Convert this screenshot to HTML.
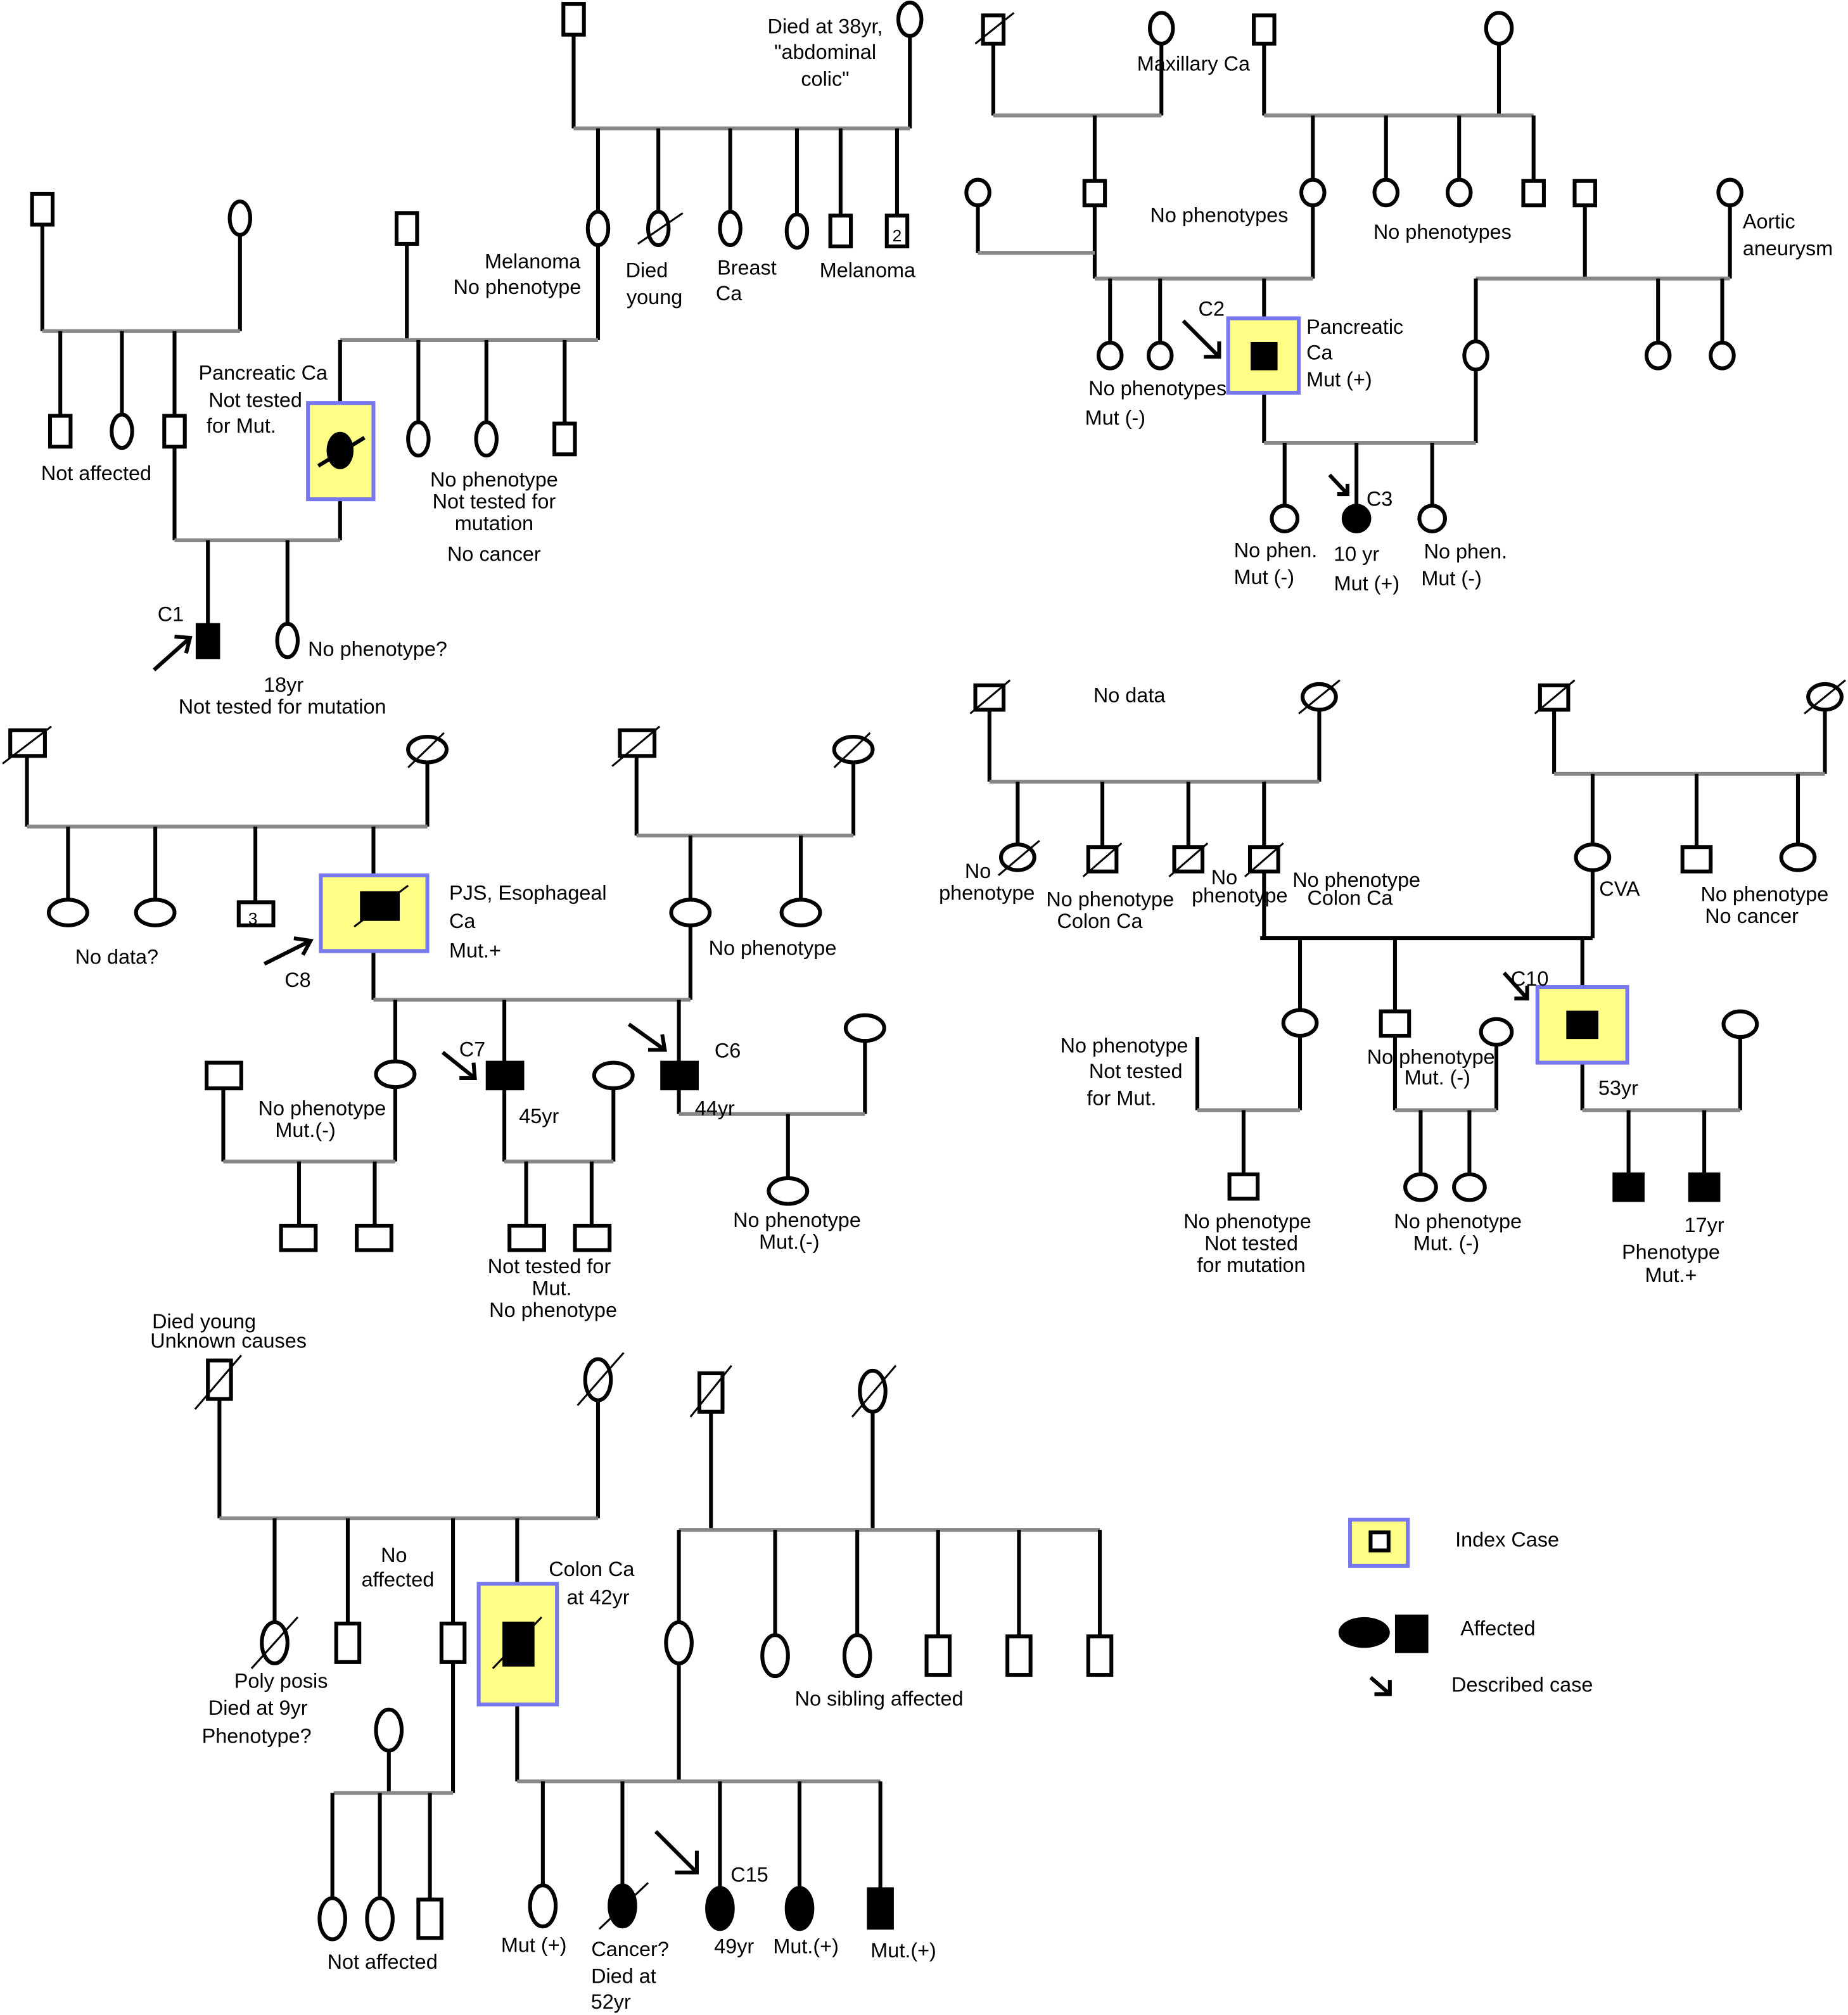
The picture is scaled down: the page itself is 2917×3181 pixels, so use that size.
<!DOCTYPE html>
<html><head><meta charset="utf-8"><style>
html,body{margin:0;padding:0;background:#fff}
svg{display:block}
.s{fill:#fff;stroke:#000;stroke-width:3}
.f{fill:#000;stroke:#000;stroke-width:3}
.k{stroke:#000;stroke-width:3;fill:none}
.g{stroke:#888;stroke-width:3;fill:none}
.y{fill:#ffff88;stroke:#7777ee;stroke-width:3}
.sl{stroke:#000;stroke-width:1.5}
text{font-family:"Liberation Sans",sans-serif;font-size:16px;fill:#000}
.m{text-anchor:middle}
</style></head><body>
<svg width="2917" height="3181" viewBox="0 0 1440 1570" preserveAspectRatio="none" xmlns="http://www.w3.org/2000/svg">
<!-- ===== Pedigree 1 ===== -->
<g>
<line class="k" x1="447" y1="27" x2="447" y2="100"/><line class="k" x1="709" y1="28" x2="709" y2="100"/>
<line class="g" x1="447" y1="100" x2="709" y2="100"/>
<rect class="s" x="439" y="3" width="16" height="24"/><ellipse class="s" cx="709" cy="15" rx="9" ry="13"/>
<line class="k" x1="466" y1="100" x2="466" y2="166"/><line class="k" x1="513" y1="100" x2="513" y2="166"/>
<line class="k" x1="569" y1="100" x2="569" y2="166"/><line class="k" x1="621" y1="100" x2="621" y2="168"/>
<line class="k" x1="655" y1="100" x2="655" y2="168"/><line class="k" x1="699" y1="100" x2="699" y2="168"/>
<ellipse class="s" cx="466" cy="178" rx="8" ry="13"/><ellipse class="s" cx="513" cy="178" rx="8" ry="13"/>
<line class="sl" x1="497" y1="190" x2="532" y2="166"/>
<ellipse class="s" cx="569" cy="178" rx="8" ry="13"/><ellipse class="s" cx="621" cy="180" rx="8" ry="13"/>
<rect class="s" x="647" y="168" width="16" height="24"/><rect class="s" x="691" y="168" width="16" height="24"/>
<text x="699" y="188" class="m" style="font-size:13px">2</text>
<text x="643" y="26" class="m">Died at 38yr,</text><text x="643" y="46" class="m">"abdominal</text><text x="643" y="67" class="m">colic"</text>
<text x="415" y="209" class="m">Melanoma</text><text x="403" y="229" class="m">No phenotype</text>
<text x="504" y="216" class="m">Died</text><text x="510" y="237" class="m">young</text>
<text x="582" y="214" class="m">Breast</text><text x="568" y="234" class="m">Ca</text>
<text x="676" y="216" class="m">Melanoma</text>
<!-- left couple -->
<line class="k" x1="33" y1="175" x2="33" y2="258"/><line class="k" x1="187" y1="183" x2="187" y2="258"/>
<line class="g" x1="33" y1="258" x2="187" y2="258"/>
<rect class="s" x="25" y="151" width="16" height="24"/><ellipse class="s" cx="187" cy="170" rx="8" ry="13"/>
<line class="k" x1="47" y1="258" x2="47" y2="324"/><line class="k" x1="95" y1="258" x2="95" y2="323"/><line class="k" x1="136" y1="258" x2="136" y2="421"/>
<rect class="s" x="39" y="324" width="16" height="24"/><ellipse class="s" cx="95" cy="336" rx="8" ry="13"/><rect class="s" x="128" y="324" width="16" height="24"/>
<text x="75" y="374" class="m">Not affected</text>
<!-- middle couple -->
<line class="k" x1="317" y1="190" x2="317" y2="265"/><rect class="s" x="309" y="166" width="16" height="24"/>
<line class="k" x1="466" y1="191" x2="466" y2="265"/>
<line class="g" x1="265" y1="265" x2="466" y2="265"/>
<line class="k" x1="265" y1="265" x2="265" y2="421"/>
<line class="k" x1="326" y1="265" x2="326" y2="329"/><line class="k" x1="379" y1="265" x2="379" y2="329"/><line class="k" x1="440" y1="265" x2="440" y2="330"/>
<ellipse class="s" cx="326" cy="342" rx="8" ry="13"/><ellipse class="s" cx="379" cy="342" rx="8" ry="13"/><rect class="s" x="432" y="330" width="16" height="24"/>
<rect class="y" x="240" y="314" width="51" height="75"/>
<ellipse class="f" cx="265" cy="351" rx="9" ry="13"/><line class="k" x1="248" y1="363" x2="284" y2="341"/>
<text x="205" y="296" class="m">Pancreatic Ca</text><text x="199" y="317" class="m">Not tested</text><text x="188" y="337" class="m">for Mut.</text>
<text x="385" y="379" class="m">No phenotype</text><text x="385" y="396" class="m">Not tested for</text><text x="385" y="413" class="m">mutation</text><text x="385" y="437" class="m">No cancer</text>
<line class="g" x1="136" y1="421" x2="265" y2="421"/>
<line class="k" x1="162" y1="421" x2="162" y2="487"/><line class="k" x1="224" y1="421" x2="224" y2="486"/>
<rect class="f" x="154" y="487" width="16" height="25"/><ellipse class="s" cx="224" cy="499" rx="8" ry="13"/>
<line class="k" x1="120" y1="522" x2="148" y2="497"/><polyline class="k" points="136,496 148,497 145,509"/>
<text x="133" y="484" class="m">C1</text>
<text x="240" y="511">No phenotype?</text><text x="221" y="539" class="m">18yr</text><text x="220" y="556" class="m">Not tested for mutation</text>
</g>
<!-- ===== Pedigree 2 ===== -->
<g>
<line class="k" x1="774" y1="34" x2="774" y2="90"/><line class="k" x1="905" y1="35" x2="905" y2="90"/>
<line class="g" x1="774" y1="90" x2="905" y2="90"/>
<rect class="s" x="766" y="12" width="16" height="22"/><line class="sl" x1="760" y1="34" x2="790" y2="10"/>
<ellipse class="s" cx="905" cy="22" rx="9" ry="12"/>
<text x="930" y="55" class="m">Maxillary Ca</text>
<line class="k" x1="985" y1="34" x2="985" y2="90"/><line class="k" x1="1168" y1="34" x2="1168" y2="90"/>
<line class="g" x1="985" y1="90" x2="1195" y2="90"/>
<rect class="s" x="977" y="12" width="16" height="22"/><ellipse class="s" cx="1168" cy="22" rx="10" ry="12"/>
<line class="k" x1="1023" y1="90" x2="1023" y2="217"/><line class="k" x1="1080" y1="90" x2="1080" y2="140"/>
<line class="k" x1="1137" y1="90" x2="1137" y2="140"/><line class="k" x1="1195" y1="90" x2="1195" y2="141"/>
<ellipse class="s" cx="1023" cy="150" rx="9" ry="10"/><ellipse class="s" cx="1080" cy="150" rx="9" ry="10"/>
<ellipse class="s" cx="1137" cy="150" rx="9" ry="10"/><rect class="s" x="1187" y="141" width="16" height="19"/>
<line class="k" x1="853" y1="90" x2="853" y2="217"/><rect class="s" x="845" y="141" width="16" height="19"/>
<line class="k" x1="762" y1="160" x2="762" y2="197"/><line class="g" x1="762" y1="197" x2="853" y2="197"/>
<ellipse class="s" cx="762" cy="150" rx="9" ry="10"/>
<text x="950" y="173" class="m">No phenotypes</text><text x="1124" y="186" class="m">No phenotypes</text>
<line class="g" x1="853" y1="217" x2="1023" y2="217"/>
<line class="k" x1="865" y1="217" x2="865" y2="267"/><line class="k" x1="904" y1="217" x2="904" y2="267"/><line class="k" x1="985" y1="217" x2="985" y2="345"/>
<ellipse class="s" cx="865" cy="277" rx="9" ry="10"/><ellipse class="s" cx="904" cy="277" rx="9" ry="10"/>
<rect class="y" x="957" y="248" width="55" height="58"/><rect class="f" x="976" y="268" width="18" height="19"/>
<text x="944" y="246" class="m">C2</text>
<line class="k" x1="922" y1="250" x2="950" y2="278"/><polyline class="k" points="950,266 950,278 938,278"/>
<text x="1018" y="260">Pancreatic</text><text x="1018" y="280">Ca</text><text x="1018" y="301">Mut (+)</text>
<text x="902" y="308" class="m">No phenotypes</text><text x="869" y="331" class="m">Mut (-)</text>
<line class="k" x1="1235" y1="160" x2="1235" y2="217"/><line class="k" x1="1348" y1="160" x2="1348" y2="217"/>
<rect class="s" x="1227" y="141" width="16" height="19"/><ellipse class="s" cx="1348" cy="150" rx="9" ry="10"/>
<line class="g" x1="1150" y1="217" x2="1348" y2="217"/>
<line class="k" x1="1150" y1="217" x2="1150" y2="345"/><line class="k" x1="1292" y1="217" x2="1292" y2="267"/><line class="k" x1="1342" y1="217" x2="1342" y2="267"/>
<ellipse class="s" cx="1150" cy="277" rx="9" ry="11"/><ellipse class="s" cx="1292" cy="277" rx="9" ry="10"/><ellipse class="s" cx="1342" cy="277" rx="9" ry="10"/>
<text x="1358" y="178">Aortic</text><text x="1358" y="199">aneurysm</text>
<line class="g" x1="985" y1="345" x2="1150" y2="345"/>
<line class="k" x1="1001" y1="345" x2="1001" y2="394"/><line class="k" x1="1057" y1="345" x2="1057" y2="394"/><line class="k" x1="1116" y1="345" x2="1116" y2="394"/>
<ellipse class="s" cx="1001" cy="404" rx="10" ry="10"/><ellipse class="f" cx="1057" cy="404" rx="10" ry="10"/><ellipse class="s" cx="1116" cy="404" rx="10" ry="10"/>
<line class="k" x1="1036" y1="370" x2="1050" y2="385"/><polyline class="k" points="1050,377 1050,385 1042,385"/>
<text x="1075" y="394" class="m">C3</text>
<text x="994" y="434" class="m">No phen.</text><text x="985" y="455" class="m">Mut (-)</text>
<text x="1057" y="437" class="m">10 yr</text><text x="1065" y="460" class="m">Mut (+)</text>
<text x="1142" y="435" class="m">No phen.</text><text x="1131" y="456" class="m">Mut (-)</text>
</g>
<!-- ===== Pedigree 3 ===== -->
<g>
<line class="k" x1="21" y1="589" x2="21" y2="644"/><line class="k" x1="333" y1="595" x2="333" y2="644"/>
<line class="g" x1="21" y1="644" x2="333" y2="644"/>
<rect class="s" x="8" y="569" width="27" height="20"/><line class="sl" x1="2" y1="595" x2="40" y2="566"/>
<ellipse class="s" cx="333" cy="584" rx="15" ry="10"/><line class="sl" x1="318" y1="598" x2="346" y2="571"/>
<line class="k" x1="53" y1="644" x2="53" y2="701"/><line class="k" x1="121" y1="644" x2="121" y2="701"/><line class="k" x1="199" y1="644" x2="199" y2="703"/><line class="k" x1="291" y1="644" x2="291" y2="779"/>
<ellipse class="s" cx="53" cy="711" rx="15" ry="10"/><ellipse class="s" cx="121" cy="711" rx="15" ry="10"/>
<rect class="s" x="186" y="703" width="27" height="18"/><text x="197" y="720" class="m" style="font-size:13px">3</text>
<rect class="y" x="250" y="682" width="83" height="59"/><rect class="f" x="282" y="696" width="28" height="20"/><line class="sl" x1="276" y1="722" x2="318" y2="690"/>
<text x="91" y="751" class="m">No data?</text>
<text x="350" y="701">PJS, Esophageal</text><text x="350" y="723">Ca</text><text x="350" y="746">Mut.+</text>
<line class="k" x1="206" y1="751" x2="242" y2="733"/><polyline class="k" points="229,731 242,733 236,744"/>
<text x="232" y="769" class="m">C8</text>
<line class="k" x1="496" y1="589" x2="496" y2="651"/><line class="k" x1="665" y1="595" x2="665" y2="651"/>
<line class="g" x1="496" y1="651" x2="665" y2="651"/>
<rect class="s" x="483" y="569" width="27" height="20"/><line class="sl" x1="477" y1="597" x2="514" y2="566"/>
<ellipse class="s" cx="665" cy="584" rx="15" ry="10"/><line class="sl" x1="650" y1="598" x2="678" y2="571"/>
<line class="k" x1="538" y1="651" x2="538" y2="779"/><line class="k" x1="624" y1="651" x2="624" y2="701"/>
<ellipse class="s" cx="538" cy="711" rx="15" ry="10"/><ellipse class="s" cx="624" cy="711" rx="15" ry="10"/>
<text x="602" y="744" class="m">No phenotype</text>
<line class="g" x1="291" y1="779" x2="538" y2="779"/>
<line class="k" x1="308" y1="779" x2="308" y2="905"/><line class="k" x1="393" y1="779" x2="393" y2="905"/><line class="k" x1="529" y1="779" x2="529" y2="868"/>
<ellipse class="s" cx="308" cy="837" rx="15" ry="10"/>
<rect class="f" x="380" y="828" width="27" height="20"/><rect class="f" x="516" y="828" width="27" height="20"/>
<line class="k" x1="174" y1="848" x2="174" y2="905"/><rect class="s" x="161" y="828" width="27" height="20"/>
<line class="g" x1="174" y1="905" x2="308" y2="905"/>
<line class="k" x1="233" y1="905" x2="233" y2="955"/><line class="k" x1="292" y1="905" x2="292" y2="955"/>
<rect class="s" x="219" y="955" width="27" height="19"/><rect class="s" x="278" y="955" width="27" height="19"/>
<text x="251" y="869" class="m">No phenotype</text><text x="238" y="886" class="m">Mut.(-)</text>
<line class="k" x1="478" y1="848" x2="478" y2="905"/><ellipse class="s" cx="478" cy="838" rx="15" ry="10"/>
<line class="g" x1="393" y1="905" x2="478" y2="905"/>
<line class="k" x1="410" y1="905" x2="410" y2="955"/><line class="k" x1="461" y1="905" x2="461" y2="955"/>
<rect class="s" x="397" y="955" width="27" height="19"/><rect class="s" x="448" y="955" width="27" height="19"/>
<text x="420" y="875" class="m">45yr</text><text x="368" y="823" class="m">C7</text>
<line class="k" x1="345" y1="820" x2="370" y2="840"/><polyline class="k" points="358,840 370,840 369,828"/>
<text x="428" y="992" class="m">Not tested for</text><text x="430" y="1009" class="m">Mut.</text><text x="431" y="1026" class="m">No phenotype</text>
<line class="k" x1="674" y1="811" x2="674" y2="868"/><ellipse class="s" cx="674" cy="801" rx="15" ry="10"/>
<line class="g" x1="529" y1="868" x2="674" y2="868"/>
<line class="k" x1="614" y1="868" x2="614" y2="918"/><ellipse class="s" cx="614" cy="928" rx="15" ry="10"/>
<text x="557" y="869" class="m">44yr</text><text x="567" y="824" class="m">C6</text>
<line class="k" x1="490" y1="798" x2="518" y2="818"/><polyline class="k" points="505,818 518,818 516,806"/>
<text x="621" y="956" class="m">No phenotype</text><text x="615" y="973" class="m">Mut.(-)</text>
</g>
<!-- ===== Pedigree 4 ===== -->
<g>
<line class="k" x1="771" y1="553" x2="771" y2="609"/><line class="k" x1="1028" y1="553" x2="1028" y2="609"/>
<line class="g" x1="771" y1="609" x2="1028" y2="609"/>
<rect class="s" x="760" y="534" width="22" height="19"/><line class="sl" x1="756" y1="556" x2="787" y2="530"/>
<ellipse class="s" cx="1028" cy="543" rx="13" ry="10"/><line class="sl" x1="1012" y1="556" x2="1044" y2="530"/>
<text x="880" y="547" class="m">No data</text>
<line class="k" x1="793" y1="609" x2="793" y2="658"/><line class="k" x1="859" y1="609" x2="859" y2="660"/>
<line class="k" x1="926" y1="609" x2="926" y2="660"/><line class="k" x1="985" y1="609" x2="985" y2="731"/>
<ellipse class="s" cx="793" cy="668" rx="13" ry="10"/><line class="sl" x1="778" y1="682" x2="810" y2="655"/>
<rect class="s" x="848" y="660" width="22" height="19"/><line class="sl" x1="844" y1="683" x2="874" y2="657"/>
<rect class="s" x="915" y="660" width="22" height="19"/><line class="sl" x1="911" y1="683" x2="941" y2="657"/>
<rect class="s" x="974" y="660" width="22" height="19"/><line class="sl" x1="970" y1="683" x2="1000" y2="657"/>
<text x="762" y="684" class="m">No</text><text x="769" y="701" class="m">phenotype</text>
<text x="865" y="706" class="m">No phenotype</text><text x="857" y="723" class="m">Colon Ca</text>
<text x="954" y="689" class="m">No</text><text x="966" y="703" class="m">phenotype</text>
<text x="1057" y="691" class="m">No phenotype</text><text x="1052" y="705" class="m">Colon Ca</text>
<line class="k" x1="1211" y1="553" x2="1211" y2="603"/><line class="k" x1="1422" y1="553" x2="1422" y2="603"/>
<line class="g" x1="1211" y1="603" x2="1422" y2="603"/>
<rect class="s" x="1200" y="534" width="22" height="19"/><line class="sl" x1="1196" y1="556" x2="1227" y2="530"/>
<ellipse class="s" cx="1422" cy="543" rx="13" ry="10"/><line class="sl" x1="1406" y1="556" x2="1438" y2="530"/>
<line class="k" x1="1241" y1="603" x2="1241" y2="731"/><line class="k" x1="1322" y1="603" x2="1322" y2="660"/><line class="k" x1="1401" y1="603" x2="1401" y2="658"/>
<ellipse class="s" cx="1241" cy="668" rx="13" ry="10"/><rect class="s" x="1311" y="660" width="22" height="19"/><ellipse class="s" cx="1401" cy="668" rx="13" ry="10"/>
<text x="1262" y="698" class="m">CVA</text><text x="1375" y="702" class="m">No phenotype</text><text x="1365" y="719" class="m">No cancer</text>
<line class="k" x1="982" y1="731" x2="1241" y2="731"/>
<line class="k" x1="1013" y1="731" x2="1013" y2="865"/><line class="k" x1="1087" y1="731" x2="1087" y2="865"/><line class="k" x1="1233" y1="731" x2="1233" y2="865"/>
<ellipse class="s" cx="1013" cy="797" rx="13" ry="10"/><rect class="s" x="1076" y="788" width="22" height="19"/>
<rect class="y" x="1198" y="769" width="70" height="59"/><rect class="f" x="1222" y="789" width="22" height="19"/>
<text x="1192" y="768" class="m">C10</text>
<line class="k" x1="1172" y1="758" x2="1190" y2="778"/><polyline class="k" points="1190,768 1190,778 1180,778"/>
<line class="k" x1="933" y1="808" x2="933" y2="865"/><line class="g" x1="933" y1="865" x2="1013" y2="865"/>
<line class="k" x1="969" y1="865" x2="969" y2="915"/><rect class="s" x="958" y="915" width="22" height="19"/>
<text x="876" y="820" class="m">No phenotype</text><text x="885" y="840" class="m">Not tested</text><text x="874" y="861" class="m">for Mut.</text>
<text x="972" y="957" class="m">No phenotype</text><text x="975" y="974" class="m">Not tested</text><text x="975" y="991" class="m">for mutation</text>
<line class="k" x1="1166" y1="814" x2="1166" y2="865"/><ellipse class="s" cx="1166" cy="804" rx="12" ry="10"/>
<line class="g" x1="1087" y1="865" x2="1166" y2="865"/>
<line class="k" x1="1107" y1="865" x2="1107" y2="915"/><line class="k" x1="1145" y1="865" x2="1145" y2="915"/>
<ellipse class="s" cx="1107" cy="925" rx="12" ry="10"/><ellipse class="s" cx="1145" cy="925" rx="12" ry="10"/>
<text x="1115" y="829" class="m">No phenotype</text><text x="1120" y="845" class="m">Mut. (-)</text>
<text x="1136" y="957" class="m">No phenotype</text><text x="1127" y="974" class="m">Mut. (-)</text>
<line class="k" x1="1356" y1="808" x2="1356" y2="865"/><ellipse class="s" cx="1356" cy="798" rx="13" ry="10"/>
<line class="g" x1="1233" y1="865" x2="1356" y2="865"/>
<line class="k" x1="1269" y1="865" x2="1269" y2="915"/><line class="k" x1="1328" y1="865" x2="1328" y2="915"/>
<rect class="f" x="1258" y="915" width="22" height="20"/><rect class="f" x="1317" y="915" width="22" height="20"/>
<text x="1261" y="853" class="m">53yr</text><text x="1328" y="960" class="m">17yr</text><text x="1302" y="981" class="m">Phenotype</text><text x="1302" y="999" class="m">Mut.+</text>
</g>
<!-- ===== Pedigree 5 ===== -->
<g>
<text x="159" y="1035" class="m">Died young</text><text x="178" y="1050" class="m">Unknown causes</text>
<line class="k" x1="171" y1="1090" x2="171" y2="1183"/><line class="k" x1="466" y1="1090" x2="466" y2="1183"/>
<line class="g" x1="171" y1="1183" x2="466" y2="1183"/>
<rect class="s" x="162" y="1060" width="18" height="30"/><line class="sl" x1="152" y1="1098" x2="188" y2="1056"/>
<ellipse class="s" cx="466" cy="1075" rx="10" ry="16"/><line class="sl" x1="450" y1="1095" x2="486" y2="1054"/>
<line class="k" x1="214" y1="1183" x2="214" y2="1264"/><line class="k" x1="271" y1="1183" x2="271" y2="1265"/>
<line class="k" x1="353" y1="1183" x2="353" y2="1397"/><line class="k" x1="403" y1="1183" x2="403" y2="1388"/>
<ellipse class="s" cx="214" cy="1280" rx="10" ry="16"/><line class="sl" x1="196" y1="1300" x2="232" y2="1260"/>
<rect class="s" x="262" y="1265" width="18" height="30"/><rect class="s" x="344" y="1265" width="18" height="30"/>
<rect class="y" x="373" y="1234" width="61" height="94"/><rect class="f" x="393" y="1265" width="22" height="32"/><line class="sl" x1="384" y1="1300" x2="422" y2="1260"/>
<text x="307" y="1217" class="m">No</text><text x="310" y="1236" class="m">affected</text>
<text x="219" y="1315" class="m">Poly posis</text><text x="201" y="1336" class="m">Died at 9yr</text><text x="200" y="1358" class="m">Phenotype?</text>
<text x="461" y="1228" class="m">Colon Ca</text><text x="466" y="1250" class="m">at 42yr</text>
<line class="k" x1="554" y1="1100" x2="554" y2="1192"/><line class="k" x1="680" y1="1100" x2="680" y2="1192"/>
<line class="g" x1="529" y1="1192" x2="857" y2="1192"/>
<rect class="s" x="545" y="1070" width="18" height="30"/><line class="sl" x1="538" y1="1104" x2="570" y2="1064"/>
<ellipse class="s" cx="680" cy="1084" rx="10" ry="16"/><line class="sl" x1="664" y1="1104" x2="698" y2="1064"/>
<line class="k" x1="529" y1="1192" x2="529" y2="1388"/>
<line class="k" x1="604" y1="1192" x2="604" y2="1274"/><line class="k" x1="668" y1="1192" x2="668" y2="1274"/>
<line class="k" x1="731" y1="1192" x2="731" y2="1275"/><line class="k" x1="794" y1="1192" x2="794" y2="1275"/><line class="k" x1="857" y1="1192" x2="857" y2="1275"/>
<ellipse class="s" cx="529" cy="1280" rx="10" ry="16"/><ellipse class="s" cx="604" cy="1290" rx="10" ry="16"/><ellipse class="s" cx="668" cy="1290" rx="10" ry="16"/>
<rect class="s" x="722" y="1275" width="18" height="30"/><rect class="s" x="785" y="1275" width="18" height="30"/><rect class="s" x="848" y="1275" width="18" height="30"/>
<text x="685" y="1329" class="m">No sibling affected</text>
<line class="k" x1="303" y1="1364" x2="303" y2="1397"/><ellipse class="s" cx="303" cy="1348" rx="10" ry="16"/>
<line class="g" x1="260" y1="1397" x2="353" y2="1397"/>
<line class="k" x1="259" y1="1397" x2="259" y2="1479"/><line class="k" x1="296" y1="1397" x2="296" y2="1479"/><line class="k" x1="335" y1="1397" x2="335" y2="1480"/>
<ellipse class="s" cx="259" cy="1495" rx="10" ry="16"/><ellipse class="s" cx="296" cy="1495" rx="10" ry="16"/><rect class="s" x="326" y="1480" width="18" height="30"/>
<text x="298" y="1534" class="m">Not  affected</text>
<line class="g" x1="403" y1="1388" x2="686" y2="1388"/>
<line class="k" x1="423" y1="1388" x2="423" y2="1469"/><line class="k" x1="485" y1="1388" x2="485" y2="1469"/>
<line class="k" x1="561" y1="1388" x2="561" y2="1471"/><line class="k" x1="623" y1="1388" x2="623" y2="1471"/><line class="k" x1="686" y1="1388" x2="686" y2="1472"/>
<ellipse class="s" cx="423" cy="1485" rx="10" ry="16"/><ellipse class="f" cx="485" cy="1485" rx="10" ry="16"/><line class="sl" x1="467" y1="1503" x2="505" y2="1467"/>
<ellipse class="f" cx="561" cy="1487" rx="10" ry="16"/><ellipse class="f" cx="623" cy="1487" rx="10" ry="16"/><rect class="f" x="677" y="1472" width="18" height="30"/>
<line class="k" x1="511" y1="1427" x2="543" y2="1459"/><polyline class="k" points="543,1442 543,1459 526,1459"/>
<text x="584" y="1466" class="m">C15</text>
<text x="416" y="1521" class="m">Mut (+)</text><text x="491" y="1524" class="m">Cancer?</text><text x="486" y="1545" class="m">Died at</text><text x="476" y="1565" class="m">52yr</text>
<text x="572" y="1522" class="m">49yr</text><text x="628" y="1522" class="m">Mut.(+)</text><text x="704" y="1525" class="m">Mut.(+)</text>
</g>
<!-- ===== Legend ===== -->
<g>
<rect class="y" x="1052" y="1184" width="45" height="36"/><rect class="s" x="1068" y="1194" width="14" height="14"/>
<text x="1134" y="1205">Index Case</text>
<ellipse cx="1063" cy="1272" rx="20" ry="12" fill="#000"/><rect x="1087" y="1258" width="26" height="30" fill="#000"/>
<text x="1138" y="1274">Affected</text>
<line class="k" x1="1068" y1="1307" x2="1083" y2="1320"/><polyline class="k" points="1083,1309 1083,1320 1071,1320"/>
<text x="1131" y="1318">Described case</text>
</g>
</svg>
</body></html>
